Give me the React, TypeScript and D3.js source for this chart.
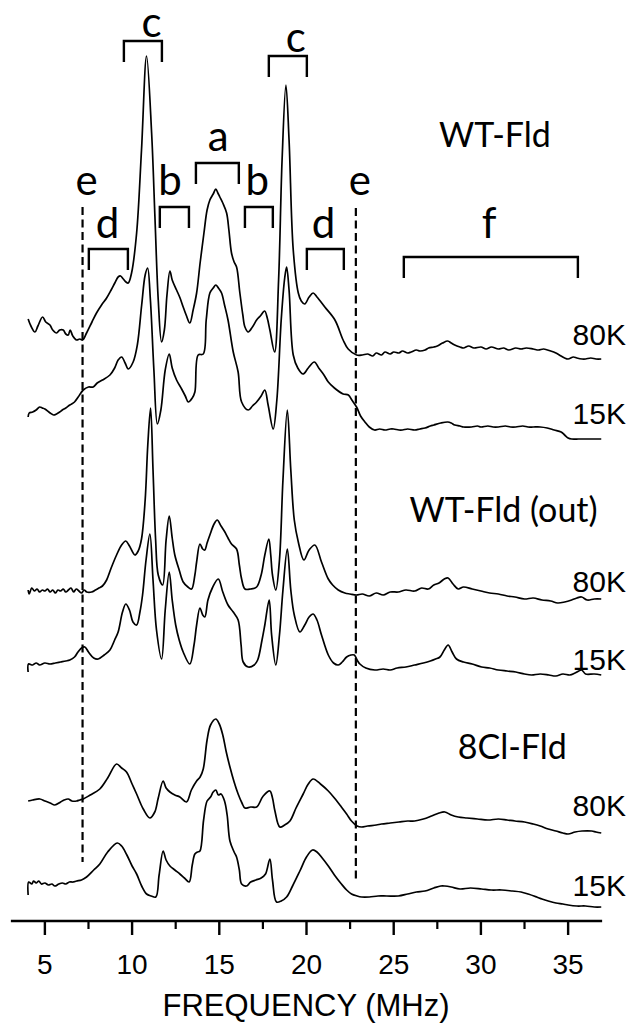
import React from "react";
import * as d3 from "d3";

// ---- data (frequency MHz, stacked intensity a.u.) ----
const wt80K: [number, number][] = [
  [4.04, 602], [4.2, 595], [4.43, 589], [4.6, 595], [4.87, 604], [5.05, 599], [5.29, 596], [5.45, 591],
  [5.67, 588], [5.85, 591], [6.05, 591], [6.2, 587], [6.34, 586], [6.45, 591], [6.6, 585], [6.82, 581],
  [7.0, 582], [7.16, 581], [7.39, 588], [7.7, 599], [7.96, 608], [8.25, 616], [8.54, 623], [8.8, 631],
  [9.01, 638], [9.2, 644], [9.34, 645], [9.5, 642], [9.65, 639], [9.78, 638], [9.97, 648], [10.26, 688],
  [10.54, 771], [10.83, 865], [11.12, 788], [11.31, 704], [11.5, 621], [11.69, 579], [11.85, 591],
  [12.0, 626], [12.17, 650], [12.3, 641], [12.55, 631], [12.75, 623], [12.93, 614], [13.1, 606],
  [13.31, 598], [13.5, 611], [13.7, 628], [13.9, 658], [14.12, 688], [14.3, 711], [14.46, 721],
  [14.65, 727], [14.8, 732], [14.92, 728], [15.03, 724], [15.2, 718], [15.42, 708], [15.55, 691],
  [15.7, 668], [15.85, 659], [15.99, 654], [16.18, 628], [16.35, 606], [16.47, 594], [16.66, 589],
  [16.9, 594], [17.14, 601], [17.35, 605], [17.6, 610], [17.75, 603], [17.9, 591], [18.17, 569],
  [18.4, 641], [18.6, 761], [18.82, 836], [19.0, 781], [19.24, 671], [19.53, 628], [19.7, 620],
  [19.9, 617], [20.15, 624], [20.38, 628], [20.6, 624], [21.05, 614], [21.63, 601], [22.1, 581],
  [22.39, 572], [22.87, 566], [23.2, 566], [23.5, 567], [23.8, 565], [24.0, 568], [24.3, 566],
  [24.5, 569], [24.8, 567], [25.0, 569], [25.3, 568], [25.5, 570], [25.8, 568], [26.0, 569],
  [26.3, 571], [26.5, 570], [26.8, 571], [27.0, 573], [27.3, 574], [27.5, 575], [27.8, 578],
  [28.1, 580], [28.3, 578], [28.5, 576], [28.8, 574], [29.0, 573], [29.3, 575], [29.6, 573],
  [30.0, 574], [30.3, 572], [30.6, 574], [31.0, 572], [31.3, 573], [31.6, 571], [32.0, 573],
  [32.3, 572], [32.6, 573], [33.0, 572], [33.3, 571], [33.6, 572], [34.0, 570], [34.3, 568],
  [34.5, 566], [34.8, 563], [35.0, 562], [35.3, 564], [35.5, 563], [35.8, 562], [36.0, 562],
  [36.3, 563], [36.6, 562], [36.9, 562],
];

const wt15K: [number, number][] = [
  [4.04, 504], [4.1, 508], [4.3, 509], [4.5, 511], [4.7, 514], [4.85, 513], [5.0, 512], [5.3, 508],
  [5.5, 506], [5.67, 507], [5.85, 509], [6.0, 511], [6.2, 513], [6.43, 516], [6.7, 519], [6.91, 524],
  [7.2, 531], [7.5, 534], [7.77, 534], [8.0, 538], [8.3, 541], [8.73, 546], [9.0, 553], [9.2, 561],
  [9.4, 564], [9.6, 558], [9.78, 552], [10.06, 559], [10.3, 576], [10.55, 616], [10.75, 646],
  [10.89, 653], [11.05, 621], [11.25, 551], [11.45, 497], [11.65, 511], [11.9, 551], [12.13, 567],
  [12.3, 553], [12.55, 541], [12.84, 532], [13.05, 525], [13.22, 519], [13.45, 523], [13.6, 529],
  [13.79, 566], [14.08, 567], [14.25, 601], [14.46, 628], [14.65, 633], [14.8, 636], [14.95, 633],
  [15.13, 628], [15.3, 616], [15.5, 601], [15.8, 569], [16.08, 549], [16.28, 519], [16.66, 511],
  [16.9, 515], [17.14, 519], [17.4, 525], [17.61, 531], [17.8, 516], [18.09, 492], [18.3, 521],
  [18.55, 601], [18.75, 643], [18.86, 654], [19.0, 631], [19.24, 566], [19.5, 553], [19.8, 547],
  [20.1, 553], [20.45, 559], [20.7, 553], [21.0, 546], [21.25, 539], [21.6, 533], [22.1, 527],
  [22.4, 526], [22.6, 521], [22.87, 514], [23.1, 505], [23.35, 499], [23.6, 494], [23.9, 491],
  [24.2, 492], [24.5, 491], [24.8, 492], [25.0, 492], [25.3, 491], [25.5, 491], [25.8, 492],
  [26.2, 491], [26.5, 492], [26.8, 493], [27.1, 495], [27.3, 496], [27.7, 498], [28.1, 499],
  [28.3, 498], [28.5, 496], [28.8, 495], [29.0, 494], [29.46, 494], [29.8, 495], [30.0, 494],
  [30.4, 495], [30.7, 494], [31.0, 494], [31.4, 495], [31.7, 494], [32.0, 494], [32.4, 495],
  [32.7, 494], [33.0, 494], [33.4, 494], [33.8, 493], [34.2, 491], [34.6, 489], [34.8, 486],
  [35.0, 483], [35.2, 482], [35.6, 482], [36.0, 482], [36.4, 482], [36.9, 482],
];

const out80K: [number, number][] = [
  [4.04, 331], [4.1, 327], [4.25, 333], [4.4, 330], [4.55, 332], [4.7, 329], [4.85, 331], [5.0, 330],
  [5.15, 332], [5.3, 329], [5.45, 331], [5.6, 328], [5.75, 331], [5.9, 330], [6.05, 332], [6.2, 329],
  [6.35, 331], [6.5, 333], [6.65, 329], [6.8, 332], [6.95, 330], [7.1, 328], [7.25, 331], [7.4, 329],
  [7.68, 329], [7.9, 331], [8.1, 333], [8.3, 335], [8.54, 341], [8.8, 353], [9.11, 366], [9.4, 376],
  [9.64, 380], [9.85, 375], [10.16, 366], [10.35, 370], [10.54, 382], [10.75, 421], [10.9, 476],
  [11.06, 513], [11.2, 451], [11.35, 381], [11.5, 346], [11.75, 336], [11.95, 381], [12.13, 405],
  [12.3, 383], [12.45, 366], [12.7, 351], [12.93, 339], [13.2, 334], [13.41, 332], [13.6, 346],
  [13.7, 359], [13.89, 377], [14.05, 372], [14.17, 371], [14.3, 378], [14.46, 386], [14.7, 397],
  [14.88, 401], [15.1, 395], [15.32, 389], [15.5, 383], [15.7, 377], [15.99, 372], [16.15, 356],
  [16.28, 342], [16.47, 332], [16.8, 332], [17.14, 334], [17.4, 346], [17.61, 366], [17.84, 382],
  [17.95, 366], [18.05, 346], [18.24, 331], [18.45, 361], [18.65, 441], [18.9, 511], [19.1, 451],
  [19.3, 401], [19.53, 379], [19.85, 361], [20.15, 371], [20.48, 376], [20.86, 359], [21.25, 342],
  [21.5, 336], [21.82, 331], [22.2, 328], [22.5, 327], [22.87, 326], [23.2, 327], [23.6, 325],
  [24.0, 328], [24.4, 326], [24.8, 329], [25.26, 329], [25.7, 331], [26.2, 330], [26.6, 333],
  [26.98, 332], [27.3, 336], [27.6, 338], [27.9, 342], [28.12, 343], [28.4, 337], [28.7, 332],
  [29.0, 334], [29.5, 332], [30.0, 330], [30.5, 328], [31.0, 327], [31.5, 325], [31.95, 324],
  [32.5, 322], [33.0, 323], [33.5, 321], [34.0, 320], [34.4, 318], [34.8, 319], [35.2, 321],
  [35.5, 323], [35.77, 324], [36.1, 321], [36.5, 322], [36.9, 322],
];

const out15K: [number, number][] = [
  [4.04, 249], [4.06, 257], [4.3, 256], [4.5, 258], [4.7, 256], [5.0, 258], [5.29, 257], [5.6, 258],
  [5.9, 259], [6.2, 260], [6.43, 261], [6.7, 264], [6.9, 269], [7.1, 273], [7.29, 274], [7.5, 269],
  [7.8, 263], [8.06, 262], [8.4, 266], [8.73, 271], [9.0, 281], [9.2, 289], [9.45, 309], [9.64, 317],
  [9.85, 311], [10.05, 299], [10.26, 296], [10.45, 309], [10.6, 326], [10.8, 361], [11.02, 387],
  [11.2, 341], [11.4, 291], [11.69, 262], [11.9, 311], [12.13, 349], [12.3, 321], [12.5, 296],
  [12.7, 281], [12.93, 269], [13.31, 257], [13.55, 276], [13.7, 296], [13.89, 313], [14.05, 306],
  [14.17, 304], [14.35, 321], [14.6, 333], [14.94, 342], [15.2, 329], [15.5, 316], [15.8, 309],
  [16.08, 301], [16.25, 276], [16.37, 259], [16.66, 254], [17.0, 256], [17.2, 261], [17.45, 281],
  [17.61, 296], [17.86, 321], [18.0, 286], [18.24, 256], [18.45, 286], [18.65, 331], [18.9, 372],
  [19.1, 331], [19.3, 306], [19.62, 289], [19.9, 296], [20.15, 304], [20.38, 307], [20.6, 301],
  [20.86, 286], [21.25, 266], [21.55, 258], [21.82, 256], [22.05, 259], [22.3, 264], [22.55, 266],
  [22.74, 266], [22.9, 261], [23.06, 257], [23.4, 253], [23.92, 251], [24.4, 252], [24.8, 251],
  [25.2, 253], [25.7, 254], [26.2, 256], [26.7, 258], [27.1, 260], [27.4, 262], [27.65, 264],
  [27.9, 271], [28.12, 276], [28.35, 269], [28.6, 262], [29.0, 259], [29.5, 257], [30.04, 254],
  [30.5, 253], [31.0, 251], [31.5, 250], [32.0, 249], [32.5, 247], [32.9, 246], [33.4, 247],
  [33.9, 246], [34.3, 245], [34.7, 247], [35.1, 246], [35.4, 248], [35.77, 251], [36.0, 247],
  [36.5, 247], [36.9, 246],
];

const cl80K: [number, number][] = [
  [4.04, 120], [4.3, 121], [4.71, 122], [5.0, 120], [5.3, 118], [5.57, 116], [5.9, 119], [6.1, 121],
  [6.34, 122], [6.55, 120], [6.82, 120], [7.0, 121], [7.2, 122], [7.6, 126], [8.15, 132], [8.6, 143],
  [9.11, 157], [9.4, 153], [9.68, 149], [10.0, 137], [10.26, 127], [10.64, 112], [11.02, 103],
  [11.3, 109], [11.5, 123], [11.78, 140], [11.95, 133], [12.17, 129], [12.45, 126], [12.74, 124],
  [13.12, 119], [13.4, 131], [13.7, 140], [13.9, 144], [14.08, 152], [14.3, 181], [14.5, 196],
  [14.8, 202], [15.0, 197], [15.2, 186], [15.4, 169], [15.61, 154], [15.85, 139], [16.08, 127],
  [16.3, 118], [16.47, 113], [16.8, 114], [17.14, 114], [17.52, 125], [17.9, 130], [18.05, 123],
  [18.19, 110], [18.47, 94], [18.75, 96], [19.05, 100], [19.4, 113], [19.81, 127], [20.1, 137],
  [20.38, 142], [20.8, 137], [21.25, 130], [21.6, 123], [22.0, 114], [22.3, 107], [22.58, 100],
  [22.9, 95], [23.16, 94], [23.5, 95], [24.0, 96], [24.3, 97], [24.8, 98], [25.3, 99], [25.8, 100],
  [26.2, 100], [26.7, 102], [27.17, 105], [27.6, 108], [27.93, 109], [28.3, 106], [28.7, 104],
  [29.2, 103], [29.8, 102], [30.4, 101], [31.0, 102], [31.5, 101], [31.95, 100], [32.5, 99],
  [33.0, 97], [33.4, 95], [33.86, 92], [34.3, 90], [34.7, 88], [35.0, 87], [35.4, 89], [35.8, 90],
  [36.35, 90], [36.6, 89], [36.9, 88],
];

const cl15K: [number, number][] = [
  [4.04, 26], [4.07, 39], [4.25, 37], [4.35, 40], [4.5, 38], [4.65, 40], [4.8, 37], [5.0, 38],
  [5.2, 36], [5.4, 37], [5.57, 35], [5.8, 37], [6.0, 38], [6.2, 37], [6.4, 39], [6.6, 39], [6.82, 40],
  [7.1, 41], [7.39, 44], [7.8, 51], [8.15, 57], [8.6, 69], [9.15, 78], [9.4, 75], [9.7, 66],
  [10.0, 55], [10.26, 47], [10.55, 35], [10.83, 27], [11.1, 25], [11.36, 24], [11.55, 46],
  [11.78, 70], [11.95, 61], [12.17, 55], [12.45, 51], [12.74, 47], [13.0, 43], [13.27, 39],
  [13.45, 56], [13.6, 67], [13.75, 69], [13.89, 70], [14.1, 101], [14.3, 120], [14.5, 124],
  [14.65, 129], [14.8, 131], [14.95, 126], [15.1, 127], [15.3, 120], [15.45, 106], [15.61, 80],
  [15.85, 69], [15.99, 64], [16.15, 51], [16.28, 37], [16.56, 35], [16.8, 39], [17.1, 41],
  [17.4, 43], [17.65, 47], [17.9, 62], [18.05, 41], [18.28, 19], [18.55, 20], [18.86, 24],
  [19.2, 35], [19.62, 50], [20.0, 64], [20.35, 71], [20.6, 69], [20.9, 63], [21.25, 55], [21.6, 46],
  [22.0, 37], [22.3, 31], [22.58, 27], [22.9, 25], [23.16, 24], [23.6, 24], [24.1, 25], [24.6, 25],
  [25.26, 25], [25.8, 27], [26.3, 29], [26.79, 30], [27.3, 33], [27.7, 35], [27.93, 35], [28.3, 34],
  [28.8, 32], [29.4, 33], [30.04, 32], [30.6, 31], [31.2, 31], [31.8, 30], [32.3, 29], [32.71, 27],
  [33.2, 24], [33.5, 22], [33.86, 20], [34.3, 18], [34.7, 17], [35.0, 16], [35.5, 15], [36.0, 15],
  [36.5, 14], [36.9, 14],
];

const traces = [wt80K, wt15K, out80K, out15K, cl80K, cl15K];

// temperature labels: [text, intensity level of baseline]
const tempLabels: [string, number][] = [
  ["80K", 576], ["15K", 497], ["80K", 329], ["15K", 251], ["80K", 105], ["15K", 25],
];
// sample labels: [text, freq center, intensity level]
const sampleLabels: [string, number, number][] = [
  ["WT-Fld", 30.8, 774], ["WT-Fld (out)", 31.3, 399], ["8Cl-Fld", 31.8, 162],
];
// brackets: [label, f0, f1, top level, label baseline level, label freq shift]
const brackets: [string, number, number, number, number, number][] = [
  ["c", 9.53, 11.71, 880, 884, 0.5],
  ["c", 17.84, 20.02, 865, 869, 0.45],
  ["a", 13.66, 16.12, 758, 770, 0.05],
  ["b", 11.59, 13.26, 714, 726, -0.25],
  ["b", 16.47, 18.07, 714, 726, -0.1],
  ["d", 7.52, 9.76, 672, 683, -0.05],
  ["d", 20.02, 22.14, 672, 683, -0.1],
  ["f", 25.58, 35.56, 664, 683, -0.1],
];
// dashed "e" lines: [freq, top level, bottom level, label baseline level]
const eLines: [number, number, number, number][] = [
  [7.16, 714, 59, 726],
  [22.83, 713, 40, 726],
];

const majorTicks = [5, 10, 15, 20, 25, 30, 35];
const minorTicks = [7.5, 12.5, 17.5, 22.5, 27.5, 32.5];

export default function App() {
  const W = 630, H = 1024;
  const x = d3.scaleLinear().domain([3, 37]).range([10, 603]);
  const y = d3.scaleLinear().domain([0, 921]).range([921, 0]);
  const line = d3.line<[number, number]>()
    .x((d) => x(d[0]))
    .y((d) => y(d[1]))
    .curve(d3.curveCatmullRom.alpha(0.5));
  const axisY = y(0);
  const calibri = "Lato, 'Open Sans', sans-serif";
  const arial = "'Liberation Sans', Arial, sans-serif";
  const legH = 21;

  return (
    <svg width={W} height={H} style={{ position: "absolute", left: 0, top: 0, background: "#fff" }}>
      <rect width={W} height={H} fill="#fff" />
      {traces.map((t, i) => (
        <path key={i} d={line(t) || ""} fill="none" stroke="#000" strokeWidth={1.7} strokeLinejoin="round" />
      ))}
      {eLines.map(([f, t, b, lv], i) => (
        <g key={"e" + i}>
          <line x1={x(f)} x2={x(f)} y1={y(t)} y2={y(b)} stroke="#000" strokeWidth={2.2} strokeDasharray="8,4.5" />
          <text x={x(f) + 4} y={y(lv)} fontFamily={calibri} fontSize={42} textAnchor="middle">e</text>
        </g>
      ))}
      {brackets.map(([lab, f0, f1, top, lv, sh], i) => (
        <g key={"b" + i}>
          <path
            d={`M${x(f0)},${y(top) + legH} V${y(top)} H${x(f1)} V${y(top) + legH}`}
            fill="none" stroke="#000" strokeWidth={2.4}
          />
          <text x={x((f0 + f1) / 2 + sh)} y={y(lv)} fontFamily={calibri} fontSize={42} textAnchor="middle">{lab}</text>
        </g>
      ))}
      {sampleLabels.map(([s, f, lv], i) => (
        <text key={"s" + i} x={x(f)} y={y(lv)} fontFamily={calibri} fontSize={34} textAnchor="middle">{s}</text>
      ))}
      {tempLabels.map(([s, lv], i) => (
        <text key={"t" + i} x={626} y={y(lv)} fontFamily={arial} fontSize={30} textAnchor="end">{s}</text>
      ))}
      <line x1={x(3.05)} x2={x(36.95)} y1={axisY} y2={axisY} stroke="#000" strokeWidth={2.4} />
      {majorTicks.map((t) => (
        <g key={"M" + t}>
          <line x1={x(t)} x2={x(t)} y1={axisY} y2={axisY + 14} stroke="#000" strokeWidth={2.4} />
          <text x={x(t)} y={axisY + 53} fontFamily={arial} fontSize={28} textAnchor="middle">{t}</text>
        </g>
      ))}
      {minorTicks.map((t) => (
        <line key={"m" + t} x1={x(t)} x2={x(t)} y1={axisY} y2={axisY + 8} stroke="#000" strokeWidth={2.2} />
      ))}
      <text x={306} y={1016} fontFamily={arial} fontSize={31} textAnchor="middle">FREQUENCY (MHz)</text>
    </svg>
  );
}
